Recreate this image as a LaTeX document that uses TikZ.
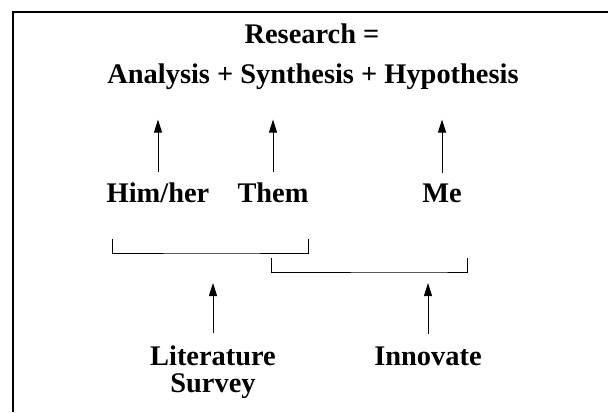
\documentclass[tikz,border=0pt]{standalone}
\usepackage{fontspec}
\setmainfont{Liberation Serif}
\usetikzlibrary{arrows.meta, positioning}

\begin{document}
\begin{tikzpicture}[x=0.5pt, y=-0.5pt, every node/.style={font=\fontsize{14.2}{13.5}\selectfont\bfseries, inner sep=0pt, anchor=base}]
        % Define line styles
        \tikzstyle{arrow} = [line width=0.5pt, -{Triangle[length=6.5pt, width=4pt]}]
        \tikzstyle{bracket} = [line width=0.5pt]

        % Page size and frame
        \useasboundingbox (0,0) rectangle (608,412);
        \draw [line width=0.7pt] (13,412) -- (13,12) -- (608,12);

        % Equation at the top
        \node (research) at (312,43) {Research =};
        \node (terms) at (313,83) {Analysis + Synthesis + Hypothesis};

        % Who does each part
        \node (himher) at (158,202) {Him/her};
        \node (them) at (273,202) {Them};
        \node (me) at (442,202) {Me};

        % Activities at the bottom (base is the last line)
        \node (litsurvey) [align=center] at (213,392) {Literature\\Survey};
        \node (innovate) at (428,365) {Innovate};

        % Brackets grouping the parts
        \coordinate (litleft) at (112,239);
        \coordinate (litright) at (308,239);
        \coordinate (litgroup) at (213,253);
        \coordinate (innoleft) at (271,258);
        \coordinate (innoright) at (467,258);
        \coordinate (innogroup) at (428,272);
        \draw [bracket] (litleft) |- (litgroup) -| (litright);
        \draw [bracket] (innoleft) |- (innogroup) -| (innoright);

        % Arrows
        \draw [arrow, shorten <=5pt, shorten >=15pt] (himher.north) -- (himher.north |- terms.south);
        \draw [arrow, shorten <=5pt, shorten >=15pt] (them.north) -- (them.north |- terms.south);
        \draw [arrow, shorten <=5pt, shorten >=15pt] (me.north) -- (me.north |- terms.south);
        \draw [arrow, shorten <=6pt, shorten >=15pt] (litsurvey.north) -- (litgroup);
        \draw [arrow, shorten <=6pt, shorten >=5.5pt] (innovate.north) -- (innogroup);
\end{tikzpicture}
\end{document}
